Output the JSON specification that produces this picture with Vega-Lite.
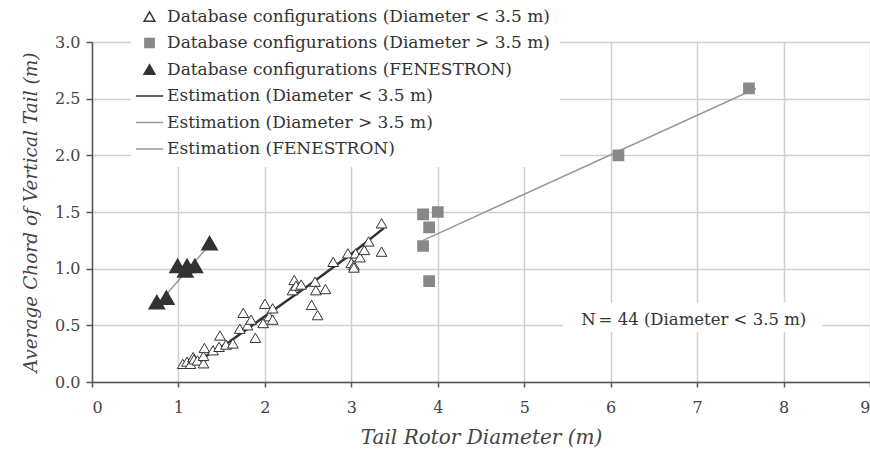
{
  "$schema": "https://vega.github.io/schema/vega-lite/v6.json",
  "autosize": {"type": "none"},
  "width": 778,
  "height": 340,
  "padding": {"left": 92, "top": 42, "right": 0, "bottom": 80},
  "background": "white",
  "config": {
    "font": "DejaVu Serif",
    "view": {"stroke": null},
    "axis": {"gridColor": "#cfcfcf", "gridWidth": 1.5, "domainColor": "#555", "domainWidth": 1.5, "tickColor": "#555", "tickWidth": 1.5, "labelFont": "DejaVu Serif", "labelFontSize": 16, "labelColor": "#444", "titleFont": "DejaVu Serif", "titleFontSize": 20, "titleFontStyle": "italic", "titleFontWeight": "normal", "titleColor": "#444"}
  },
  "datasets": {
    "pts": [
      {"d": 1.05, "c": 0.16, "series": "Database configurations (Diameter < 3.5 m)"},
      {"d": 1.10, "c": 0.18, "series": "Database configurations (Diameter < 3.5 m)"},
      {"d": 1.14, "c": 0.16, "series": "Database configurations (Diameter < 3.5 m)"},
      {"d": 1.17, "c": 0.22, "series": "Database configurations (Diameter < 3.5 m)"},
      {"d": 1.18, "c": 0.20, "series": "Database configurations (Diameter < 3.5 m)"},
      {"d": 1.22, "c": 0.19, "series": "Database configurations (Diameter < 3.5 m)"},
      {"d": 1.29, "c": 0.165, "series": "Database configurations (Diameter < 3.5 m)"},
      {"d": 1.29, "c": 0.23, "series": "Database configurations (Diameter < 3.5 m)"},
      {"d": 1.30, "c": 0.30, "series": "Database configurations (Diameter < 3.5 m)"},
      {"d": 1.40, "c": 0.28, "series": "Database configurations (Diameter < 3.5 m)"},
      {"d": 1.47, "c": 0.31, "series": "Database configurations (Diameter < 3.5 m)"},
      {"d": 1.48, "c": 0.41, "series": "Database configurations (Diameter < 3.5 m)"},
      {"d": 1.55, "c": 0.33, "series": "Database configurations (Diameter < 3.5 m)"},
      {"d": 1.63, "c": 0.34, "series": "Database configurations (Diameter < 3.5 m)"},
      {"d": 1.71, "c": 0.47, "series": "Database configurations (Diameter < 3.5 m)"},
      {"d": 1.75, "c": 0.61, "series": "Database configurations (Diameter < 3.5 m)"},
      {"d": 1.80, "c": 0.50, "series": "Database configurations (Diameter < 3.5 m)"},
      {"d": 1.84, "c": 0.55, "series": "Database configurations (Diameter < 3.5 m)"},
      {"d": 1.89, "c": 0.39, "series": "Database configurations (Diameter < 3.5 m)"},
      {"d": 1.98, "c": 0.52, "series": "Database configurations (Diameter < 3.5 m)"},
      {"d": 2.00, "c": 0.69, "series": "Database configurations (Diameter < 3.5 m)"},
      {"d": 2.05, "c": 0.58, "series": "Database configurations (Diameter < 3.5 m)"},
      {"d": 2.09, "c": 0.65, "series": "Database configurations (Diameter < 3.5 m)"},
      {"d": 2.09, "c": 0.55, "series": "Database configurations (Diameter < 3.5 m)"},
      {"d": 2.32, "c": 0.81, "series": "Database configurations (Diameter < 3.5 m)"},
      {"d": 2.34, "c": 0.90, "series": "Database configurations (Diameter < 3.5 m)"},
      {"d": 2.36, "c": 0.85, "series": "Database configurations (Diameter < 3.5 m)"},
      {"d": 2.42, "c": 0.86, "series": "Database configurations (Diameter < 3.5 m)"},
      {"d": 2.54, "c": 0.68, "series": "Database configurations (Diameter < 3.5 m)"},
      {"d": 2.58, "c": 0.885, "series": "Database configurations (Diameter < 3.5 m)"},
      {"d": 2.59, "c": 0.81, "series": "Database configurations (Diameter < 3.5 m)"},
      {"d": 2.61, "c": 0.59, "series": "Database configurations (Diameter < 3.5 m)"},
      {"d": 2.70, "c": 0.82, "series": "Database configurations (Diameter < 3.5 m)"},
      {"d": 2.79, "c": 1.06, "series": "Database configurations (Diameter < 3.5 m)"},
      {"d": 2.96, "c": 1.135, "series": "Database configurations (Diameter < 3.5 m)"},
      {"d": 3.00, "c": 1.05, "series": "Database configurations (Diameter < 3.5 m)"},
      {"d": 3.03, "c": 1.03, "series": "Database configurations (Diameter < 3.5 m)"},
      {"d": 3.03, "c": 1.01, "series": "Database configurations (Diameter < 3.5 m)"},
      {"d": 3.05, "c": 1.135, "series": "Database configurations (Diameter < 3.5 m)"},
      {"d": 3.10, "c": 1.10, "series": "Database configurations (Diameter < 3.5 m)"},
      {"d": 3.15, "c": 1.165, "series": "Database configurations (Diameter < 3.5 m)"},
      {"d": 3.20, "c": 1.24, "series": "Database configurations (Diameter < 3.5 m)"},
      {"d": 3.35, "c": 1.15, "series": "Database configurations (Diameter < 3.5 m)"},
      {"d": 3.35, "c": 1.40, "series": "Database configurations (Diameter < 3.5 m)"},
      {"d": 3.83, "c": 1.48, "series": "Database configurations (Diameter > 3.5 m)"},
      {"d": 4.00, "c": 1.50, "series": "Database configurations (Diameter > 3.5 m)"},
      {"d": 3.90, "c": 1.365, "series": "Database configurations (Diameter > 3.5 m)"},
      {"d": 3.83, "c": 1.20, "series": "Database configurations (Diameter > 3.5 m)"},
      {"d": 3.90, "c": 0.89, "series": "Database configurations (Diameter > 3.5 m)"},
      {"d": 6.09, "c": 2.00, "series": "Database configurations (Diameter > 3.5 m)"},
      {"d": 7.60, "c": 2.59, "series": "Database configurations (Diameter > 3.5 m)"},
      {"d": 0.75, "c": 0.70, "series": "Database configurations (FENESTRON)"},
      {"d": 0.86, "c": 0.74, "series": "Database configurations (FENESTRON)"},
      {"d": 0.99, "c": 1.02, "series": "Database configurations (FENESTRON)"},
      {"d": 1.08, "c": 0.98, "series": "Database configurations (FENESTRON)"},
      {"d": 1.10, "c": 1.02, "series": "Database configurations (FENESTRON)"},
      {"d": 1.19, "c": 1.02, "series": "Database configurations (FENESTRON)"},
      {"d": 1.36, "c": 1.22, "series": "Database configurations (FENESTRON)"}
    ],
    "lines": [
      {"d": 1.02, "c": 0.135, "series": "Estimation (Diameter < 3.5 m)"},
      {"d": 1.30, "c": 0.22, "series": "Estimation (Diameter < 3.5 m)"},
      {"d": 1.59, "c": 0.355, "series": "Estimation (Diameter < 3.5 m)"},
      {"d": 2.00, "c": 0.58, "series": "Estimation (Diameter < 3.5 m)"},
      {"d": 2.50, "c": 0.85, "series": "Estimation (Diameter < 3.5 m)"},
      {"d": 3.00, "c": 1.13, "series": "Estimation (Diameter < 3.5 m)"},
      {"d": 3.38, "c": 1.36, "series": "Estimation (Diameter < 3.5 m)"},
      {"d": 3.83, "c": 1.25, "series": "Estimation (Diameter > 3.5 m)"},
      {"d": 7.68, "c": 2.59, "series": "Estimation (Diameter > 3.5 m)"},
      {"d": 0.73, "c": 0.66, "series": "Estimation (FENESTRON)"},
      {"d": 1.36, "c": 1.21, "series": "Estimation (FENESTRON)"}
    ],
    "box": [{"x1": 5.45, "x2": 8.45, "y1": 0.44, "y2": 0.70}],
    "notes": [
      {"d": 5.66, "c": 0.545, "t": "N", "st": "italic"},
      {"d": 5.86, "c": 0.545, "t": "= 44 (Diameter < 3.5 m)", "st": "normal"}
    ]
  },
  "layer": [
    {
      "data": {"name": "box"},
      "mark": {"type": "rect", "fill": "white"},
      "encoding": {
        "x": {"field": "x1", "type": "quantitative", "scale": {"domain": [0, 9], "nice": false}, "axis": {"title": "Tail Rotor Diameter (m)", "values": [0,1,2,3,4,5,6,7,8,9], "format": "d", "tickSize": 5, "labelPadding": 12, "titlePadding": 12}},
        "x2": {"field": "x2"},
        "y": {"field": "y1", "type": "quantitative", "scale": {"domain": [0, 3], "nice": false}, "axis": {"title": "Average Chord of Vertical Tail (m)", "titleFontSize": 18.5, "values": [0,0.5,1,1.5,2,2.5,3], "format": ".1f", "tickSize": 6, "labelPadding": 6, "titlePadding": 14}},
        "y2": {"field": "y2"}
      }
    },
    {
      "data": {"name": "notes"},
      "mark": {"type": "text", "align": "left", "baseline": "middle", "fontSize": 16.5, "color": "#333", "font": "DejaVu Serif"},
      "encoding": {
        "x": {"field": "d", "type": "quantitative"},
        "y": {"field": "c", "type": "quantitative"},
        "text": {"field": "t"},
        "fontStyle": {"field": "st", "type": "nominal", "scale": {"domain": ["italic", "normal"], "range": ["italic", "normal"]}, "legend": null}
      }
    },
    {
      "data": {"name": "lines"},
      "mark": {"type": "line"},
      "encoding": {
        "x": {"field": "d", "type": "quantitative"},
        "y": {"field": "c", "type": "quantitative"},
        "stroke": {"field": "series", "type": "nominal",
          "scale": {"domain": ["Database configurations (Diameter < 3.5 m)", "Database configurations (Diameter > 3.5 m)", "Database configurations (FENESTRON)", "Estimation (Diameter < 3.5 m)", "Estimation (Diameter > 3.5 m)", "Estimation (FENESTRON)"], "range": ["#333333", "#888888", "#333333", "#333333", "#999999", "#999999"]},
          "legend": {"title": null, "orient": "none", "legendX": 39, "legendY": -44, "fillColor": "white", "padding": 10, "rowPadding": 8.5, "labelFont": "DejaVu Serif", "labelFontSize": 17, "labelColor": "#333", "labelOffset": 9, "labelLimit": 500}},
        "strokeWidth": {"field": "series", "type": "nominal",
          "scale": {"type": "ordinal", "domain": ["Database configurations (Diameter < 3.5 m)", "Database configurations (Diameter > 3.5 m)", "Database configurations (FENESTRON)", "Estimation (Diameter < 3.5 m)", "Estimation (Diameter > 3.5 m)", "Estimation (FENESTRON)"], "range": [1.5, 1, 1, 2.5, 1.5, 1.5]}}
      }
    },
    {
      "data": {"name": "pts"},
      "mark": {"type": "point", "opacity": 1},
      "encoding": {
        "x": {"field": "d", "type": "quantitative"},
        "y": {"field": "c", "type": "quantitative"},
        "shape": {"field": "series", "type": "nominal",
          "scale": {"domain": ["Database configurations (Diameter < 3.5 m)", "Database configurations (Diameter > 3.5 m)", "Database configurations (FENESTRON)", "Estimation (Diameter < 3.5 m)", "Estimation (Diameter > 3.5 m)", "Estimation (FENESTRON)"], "range": ["triangle-up", "square", "triangle-up", "M-2.6,0H2.6", "M-2.6,0H2.6", "M-2.6,0H2.6"]}},
        "fill": {"field": "series", "type": "nominal",
          "scale": {"domain": ["Database configurations (Diameter < 3.5 m)", "Database configurations (Diameter > 3.5 m)", "Database configurations (FENESTRON)", "Estimation (Diameter < 3.5 m)", "Estimation (Diameter > 3.5 m)", "Estimation (FENESTRON)"], "range": ["white", "#888888", "#333333", "transparent", "transparent", "transparent"]}},
        "stroke": {"field": "series", "type": "nominal"},
        "strokeWidth": {"field": "series", "type": "nominal"},
        "size": {"field": "series", "type": "nominal",
          "scale": {"type": "ordinal", "domain": ["Database configurations (Diameter < 3.5 m)", "Database configurations (Diameter > 3.5 m)", "Database configurations (FENESTRON)", "Estimation (Diameter < 3.5 m)", "Estimation (Diameter > 3.5 m)", "Estimation (FENESTRON)"], "range": [115, 85, 120, 110, 110, 110]}}
      }
    }
  ]
}
